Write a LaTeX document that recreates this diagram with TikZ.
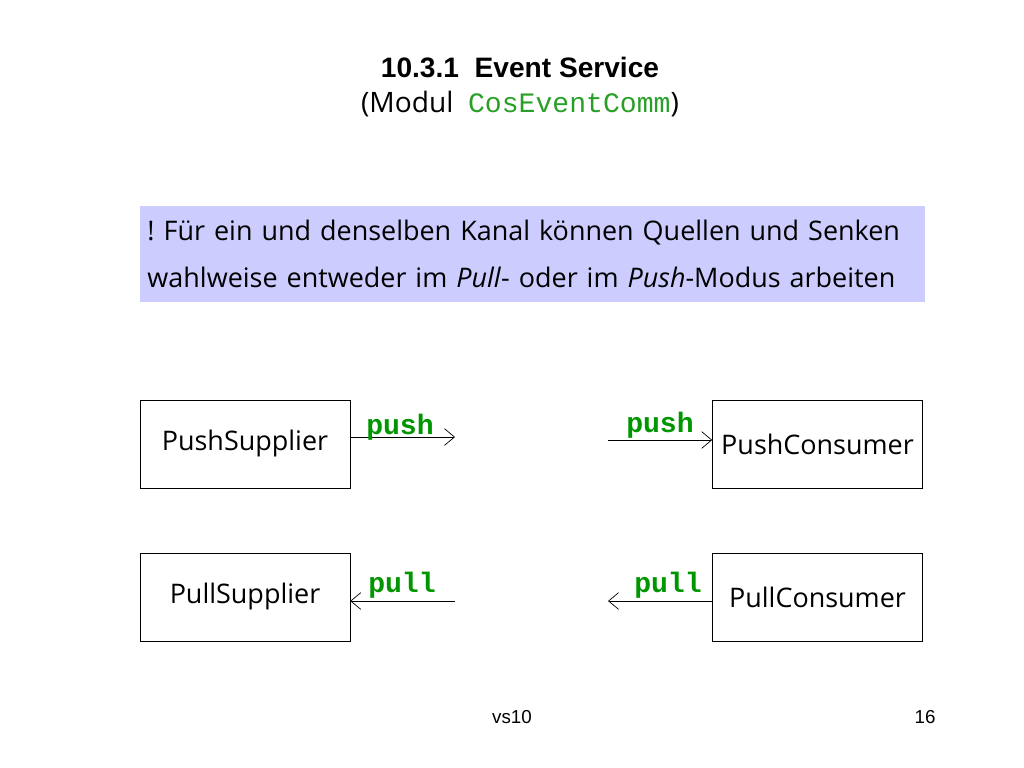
\documentclass[tikz,border=0pt]{standalone}
\usepackage{fontspec}
\setmainfont{Open Sans}
\setmonofont{Liberation Mono}
\newfontfamily\headfont{Liberation Sans}
\usepackage{xcolor}
\usetikzlibrary{shapes,arrows.meta,positioning,calc}
\definecolor{notefill}{RGB}{204,204,255}
\definecolor{codegreen}{RGB}{0,150,0}
\definecolor{titlegreen}{RGB}{40,160,40}

\begin{document}
\begin{tikzpicture}[
    x=0.03cm, y=-0.03cm,
    rolebox/.style={rectangle, draw, fill=white, minimum width=6.3cm, minimum height=2.64cm, font=\fontsize{23}{28}\selectfont},
    modelabel/.style={font=\fontsize{24}{28}\selectfont\ttfamily\bfseries, text=codegreen, inner sep=1pt},
    flow/.style={-{Straight Barb[length=0.3cm, width=0.5cm]}, semithick}
]
\useasboundingbox (0,0) rectangle (1024,768);

\node[font=\headfont\bfseries\fontsize{24}{28}\selectfont] (title) at (520,67) {10.3.1\ \ Event Service};
\node[font=\fontsize{24}{28}\selectfont] (subtitle) at (520,104) {(Modul\ \ {\ttfamily\color{titlegreen}CosEventComm})};

\node[rectangle, fill=notefill, minimum width=23.55cm, minimum height=2.88cm, text width=23.1cm, align=left, inner sep=0.22cm, font=\fontsize{23}{40}\selectfont] (note) at (532.5,254) {!\ Für ein und denselben Kanal können Quellen und Senken\\ wahlweise entweder im \emph{Pull}- oder im \emph{Push}-Modus arbeiten};

\node[rolebox] (pushsup) at (245,444) {PushSupplier};
\node[rolebox] (pushcon) at (817.5,444) {PushConsumer};
\node[rolebox] (pullsup) at (245,597) {PullSupplier};
\node[rolebox] (pullcon) at (817.5,597) {PullConsumer};

% push arrows
\coordinate (pushout) at (455,437);
\coordinate (pushin) at (608,440);
\draw[flow] (pushsup.east |- pushout) -- (pushout);
\draw[flow] (pushin) -- (pushcon.west |- pushin);
\node[modelabel] (pushlbl1) at (400,427) {push};
\node[modelabel] (pushlbl2) at (660,425) {push};

% pull arrows
\coordinate (pullfrom1) at (455,601);
\coordinate (pullto2) at (608,601);
\draw[flow] (pullfrom1) -- (pullsup.east |- pullfrom1);
\draw[flow] (pullcon.west |- pullto2) -- (pullto2);
\node[modelabel] (pulllbl1) at (402,585) {pull};
\node[modelabel] (pulllbl2) at (668,585) {pull};

\node[font=\headfont\fontsize{16}{18}\selectfont] (foot) at (512,717) {vs10};
\node[font=\headfont\fontsize{16}{18}\selectfont] (page) at (925,717) {16};
\end{tikzpicture}
\end{document}
